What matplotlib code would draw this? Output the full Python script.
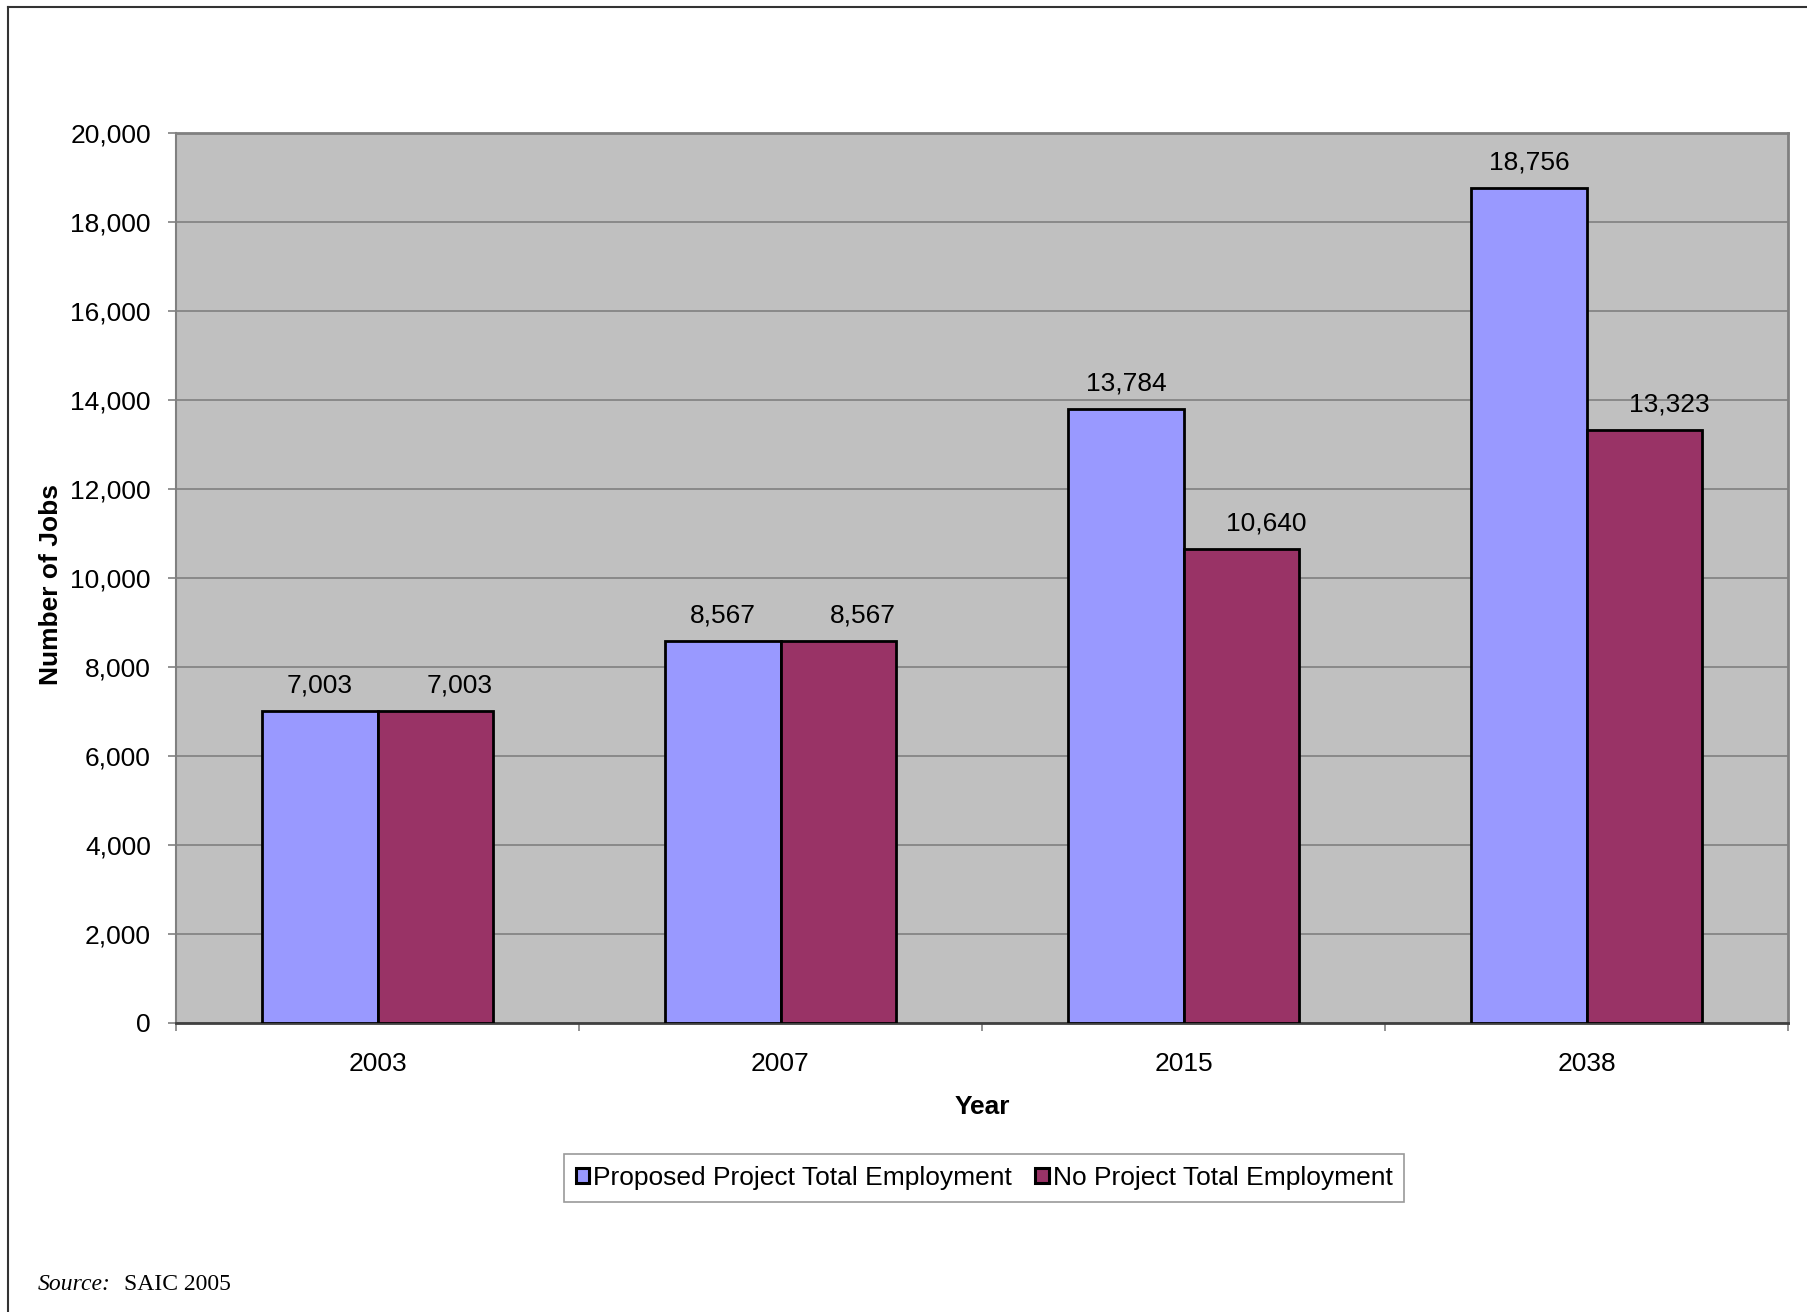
import matplotlib
matplotlib.use("Agg")
import matplotlib.pyplot as plt
import numpy as np
from matplotlib.lines import Line2D
from matplotlib.patches import Patch

years = ["2003", "2007", "2015", "2038"]
proposed = [7003, 8567, 13784, 18756]
no_project = [7003, 8567, 10640, 13323]
series_names = ["Proposed Project Total Employment", "No Project Total Employment"]
yticks = [0, 2000, 4000, 6000, 8000, 10000, 12000, 14000, 16000, 18000, 20000]

plt.rcParams['font.family'] = ['Liberation Sans', 'DejaVu Sans']

W, H = 1807, 1312
FS = 19
fig = plt.figure(figsize=(W / 100, H / 100), dpi=100)
ax = fig.add_axes([176 / W, 1 - 1022.5 / H, (1788 - 176) / W, (1022.5 - 133) / H])

ax.set_facecolor("#c0c0c0")
x = np.arange(len(years))
bw = 0.2854
c1 = "#9999ff"
c2 = "#993366"
ax.bar(x - bw / 2, proposed, bw, color=c1, edgecolor="black", linewidth=2, zorder=3)
ax.bar(x + bw / 2, no_project, bw, color=c2, edgecolor="black", linewidth=2, zorder=3)

for xi, v in zip(x - bw / 2, proposed):
    ax.annotate(f"{v:,}", (xi, v), xytext=(0, 10), textcoords="offset points",
                ha="center", va="bottom", fontsize=FS)
for xi, v in zip(x + bw / 2, no_project):
    ax.annotate(f"{v:,}", (xi, v), xytext=(18, 10), textcoords="offset points",
                ha="center", va="bottom", fontsize=FS)

ax.set_xlim(-0.5, len(years) - 0.5)
ax.set_ylim(0, 20000)
ax.set_yticks(yticks)
ax.set_yticklabels([f"{t:,}" for t in yticks], fontsize=FS)
ax.yaxis.grid(True, color="#808080", linewidth=1.2, zorder=0)
ax.set_axisbelow(True)

ax.set_xticks(np.arange(-0.5, len(years), 1.0))
ax.set_xticklabels([])
ax.set_xticks(x, minor=True)
ax.set_xticklabels(years, minor=True, fontsize=FS)
ax.tick_params(axis="x", which="minor", length=0, pad=21)
ax.tick_params(axis="x", which="major", length=6, color="#808080", width=1.2)
ax.tick_params(axis="y", length=6, color="#808080", width=1.2, pad=12)

for s in ["top", "right"]:
    ax.spines[s].set_color("#808080")
    ax.spines[s].set_linewidth(2)
ax.spines["left"].set_color("#808080")
ax.spines["left"].set_linewidth(1.5)
ax.spines["bottom"].set_color("#404040")
ax.spines["bottom"].set_linewidth(2)

ax.set_xlabel("Year", fontsize=FS, fontweight="bold", labelpad=14)
fig.text(51 / W, 1 - 585 / H, "Number of Jobs", rotation=90, fontsize=FS,
         fontweight="bold", ha="center", va="center")

handles = [Patch(facecolor=c1, edgecolor="black", linewidth=2.2),
           Patch(facecolor=c2, edgecolor="black", linewidth=2.2)]
leg = fig.legend(handles, series_names, loc="center", bbox_to_anchor=(984 / W, 1 - 1178 / H),
                 ncol=2, fontsize=FS, frameon=True, fancybox=False, edgecolor="#808080",
                 handlelength=0.5, handleheight=0.5, handletextpad=0.15, columnspacing=0.9,
                 borderpad=0.45)
leg.get_frame().set_linewidth(1.2)

fig.text(38 / W, 1 - 1284 / H, "Source:", fontsize=17, family="Liberation Serif",
         style="italic", ha="left", va="center")
fig.text(124 / W, 1 - 1284 / H, "SAIC 2005", fontsize=17, family="Liberation Serif",
         ha="left", va="center")

fig.add_artist(Line2D([7.5 / W, 7.5 / W], [0, 1 - 7 / H], color="#333333", linewidth=1.5))
fig.add_artist(Line2D([7.5 / W, 1], [1 - 7 / H, 1 - 7 / H], color="#333333", linewidth=1.5))

fig.savefig("out.png", dpi=100, facecolor="white")
